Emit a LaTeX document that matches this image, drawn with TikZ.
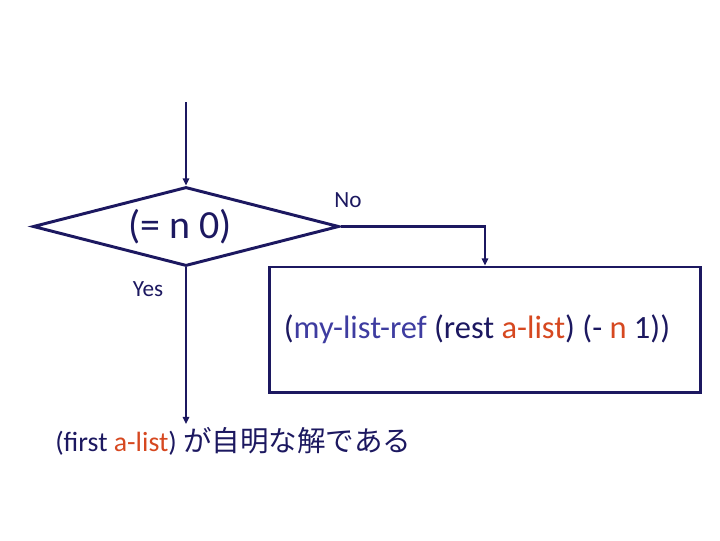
\documentclass[tikz,border=0pt]{standalone}
\usepackage{fontspec}
\setmainfont{Carlito}
\newfontfamily\jpfont{Noto Sans CJK JP}
\usetikzlibrary{shapes.geometric,arrows.meta}
\definecolor{navy}{RGB}{28,24,96}
\definecolor{fnblue}{RGB}{62,60,160}
\definecolor{argred}{RGB}{214,72,32}

\begin{document}
\begin{tikzpicture}[x=0.025cm,y=-0.025cm]
    \tikzset{flow/.style={draw=navy, line width=2.1pt},
             arrow/.style={flow, -{Triangle[length=5pt,width=4.5pt]}},
             tag/.style={text=navy, font=\fontsize{16.5}{18}\selectfont}}
    \useasboundingbox (0,0) rectangle (720,540);

    \node[flow, diamond, aspect=3.9, inner sep=0pt, minimum width=7.65cm,
          minimum height=1.975cm, text=navy,
          font=\fontsize{28.4}{30}\selectfont] (test) at (186,226.5) {(= n 0)\kern0.3cm};
    \node[flow, rectangle, minimum width=10.75cm, minimum height=3.125cm,
          text=navy, font=\fontsize{23.1}{26}\selectfont] (recur) at (485,329.5)
          {(\textcolor{fnblue}{my-list-ref} (rest \textcolor{argred}{a-list}) (- \textcolor{argred}{n} 1))\kern0.4cm};
    \node[anchor=base west, text=navy, inner sep=0pt] (answer) at (55,451)
          {\fontsize{19.8}{22}\selectfont(first \textcolor{argred}{a-list})
           \jpfont\fontsize{20.3}{24}\selectfont が自明な解である};
    \node[tag] (no) at (348,200) {No};
    \node[tag] (yes) at (148,289) {Yes};

    \coordinate (start) at (186,102);
    \coordinate (done) at (186,424);

    \draw[arrow] (start) -- (test.north);
    \draw[arrow] (test.east) -| (recur.north);
    \draw[arrow] (test.south) -- (done);
\end{tikzpicture}
\end{document}
